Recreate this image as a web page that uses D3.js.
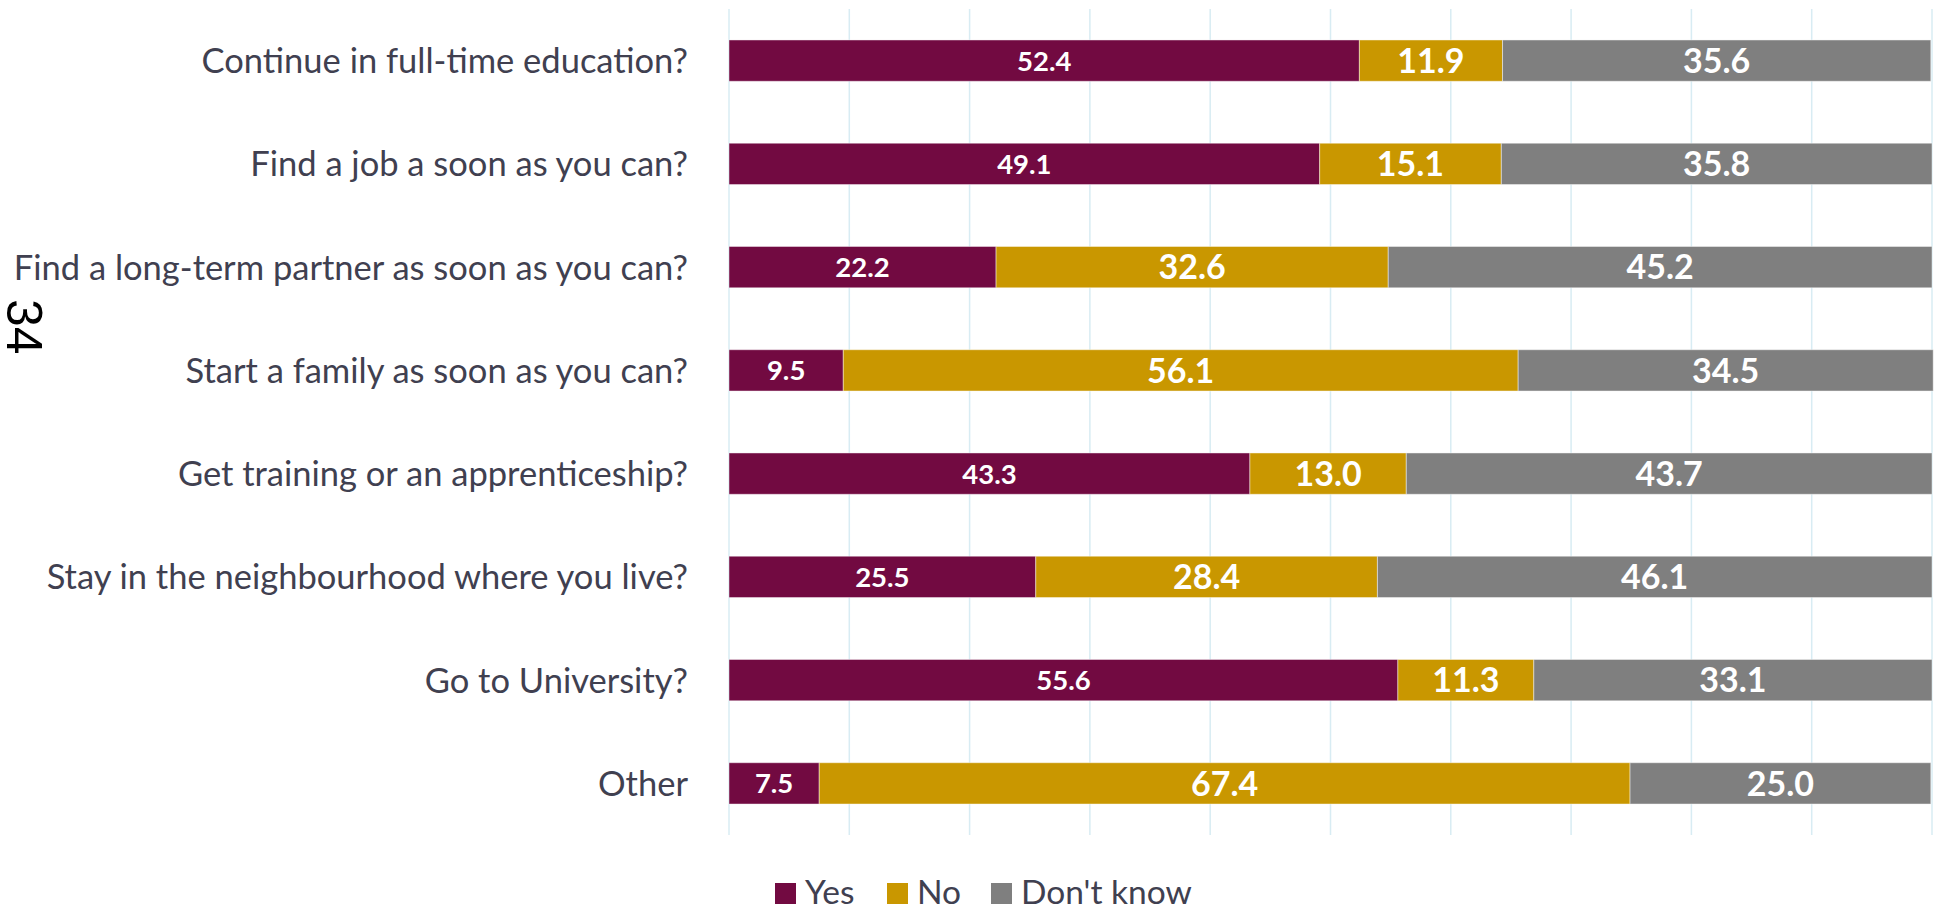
<!DOCTYPE html>
<html>
<head>
<meta charset="utf-8">
<script src="https://cdn.jsdelivr.net/npm/d3@7"></script>
<style>
  body { margin: 0; background: #fff; }
  .cat-label { font-family: Lato, sans-serif; font-size: 34.5px; fill: #404050; }
  .val { font-family: Lato, sans-serif; font-weight: bold; fill: #fff; }
  .legend-text { font-family: Lato, sans-serif; font-size: 33.5px; fill: #404050; }
</style>
</head>
<body>
<div id="chart-container"></div>
<script>
// questions, top to bottom
const categories = [
    "Continue in full-time education?",
    "Find a job a soon as you can?",
    "Find a long-term partner as soon as you can?",
    "Start a family as soon as you can?",
    "Get training or an apprenticeship?",
    "Stay in the neighbourhood where you live?",
    "Go to University?",
    "Other"
];
const seriesNames = ["Yes", "No", "Don't know"];
const yesValues = [52.4, 49.1, 22.2, 9.5, 43.3, 25.5, 55.6, 7.5];
const noValues = [11.9, 15.1, 32.6, 56.1, 13.0, 28.4, 11.3, 67.4];
const dontKnowValues = [35.6, 35.8, 45.2, 34.5, 43.7, 46.1, 33.1, 25.0];
const xTicks = [0, 10, 20, 30, 40, 50, 60, 70, 80, 90, 100];

const colors = ["#720a41", "#c99700", "#7f7f7f"];

const W = 1939, H = 908;
const plot = {left: 729, right: 1932, top: 9, bottom: 835};

const svg = d3.select("#chart-container")
    .append("svg")
    .attr("width", W)
    .attr("height", H);

const data = categories.map((c, i) => ({
    category: c,
    "Yes": yesValues[i],
    "No": noValues[i],
    "Don't know": dontKnowValues[i]
}));

const x = d3.scaleLinear()
    .domain([0, 100])
    .range([plot.left, plot.right]);

const y = d3.scaleBand()
    .domain(categories)
    .range([plot.top, plot.bottom])
    .paddingInner(0.6)
    .paddingOuter(0.3);

const color = d3.scaleOrdinal().domain(seriesNames).range(colors);

// vertical gridlines
svg.append("g")
    .selectAll("line")
    .data(xTicks)
    .join("line")
    .attr("x1", d => x(d))
    .attr("x2", d => x(d))
    .attr("y1", plot.top)
    .attr("y2", plot.bottom)
    .attr("stroke", "#d8ecf3")
    .attr("stroke-width", 1.5);

const stacked = d3.stack().keys(seriesNames)(data);

// bars
const layers = svg.append("g")
    .selectAll("g")
    .data(stacked)
    .join("g")
    .attr("fill", d => color(d.key));

layers.selectAll("rect")
    .data(d => d)
    .join("rect")
    .attr("x", d => x(d[0]))
    .attr("y", d => y(d.data.category))
    .attr("width", d => x(d[1]) - x(d[0]))
    .attr("height", y.bandwidth())
    .attr("stroke", "rgba(255,255,255,0.45)")
    .attr("stroke-width", 1);

// value labels
layers.each(function (layer) {
    d3.select(this).selectAll("text")
        .data(layer)
        .join("text")
        .attr("class", "val")
        .attr("x", d => (x(d[0]) + x(d[1])) / 2)
        .attr("y", d => y(d.data.category) + y.bandwidth() / 2)
        .attr("dy", "0.36em")
        .attr("text-anchor", "middle")
        .style("font-size", layer.key === "Yes" ? "27.5px" : "34px")
        .text(d => d3.format(".1f")(d[1] - d[0]));
});

// category labels
svg.append("g")
    .selectAll("text")
    .data(categories)
    .join("text")
    .attr("class", "cat-label")
    .attr("x", 688)
    .attr("y", d => y(d) + y.bandwidth() / 2)
    .attr("dy", "0.36em")
    .attr("text-anchor", "end")
    .text(d => d);

// stray page number on the left
svg.append("text")
    .attr("transform", "translate(7,299) rotate(90)")
    .style("font-family", "'Liberation Sans', Arial, sans-serif")
    .style("font-size", "50px")
    .attr("fill", "#000")
    .text("34");

// legend
const legendX = [775, 887, 991];
const legend = svg.append("g")
    .selectAll("g")
    .data(seriesNames)
    .join("g")
    .attr("transform", (d, i) => `translate(${legendX[i]}, 883)`);

legend.append("rect")
    .attr("width", 21)
    .attr("height", 21)
    .attr("fill", d => color(d));

legend.append("text")
    .attr("class", "legend-text")
    .attr("x", 30)
    .attr("y", 21)
    .text(d => d);
</script>
</body>
</html>
